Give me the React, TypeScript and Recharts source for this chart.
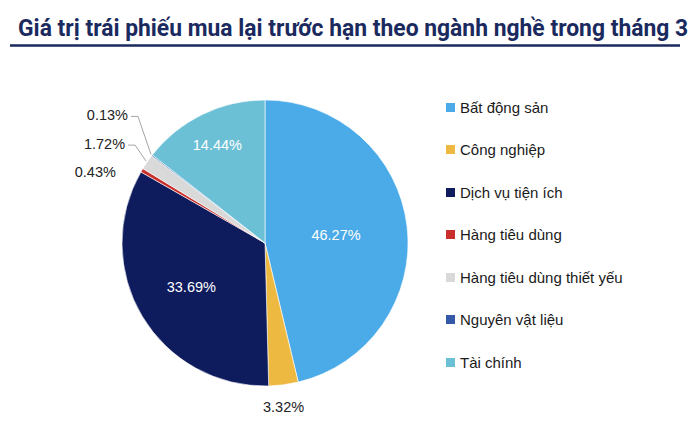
import React, { useLayoutEffect, useRef, useState } from "react";
import { PieChart, Pie, Cell, Legend } from "recharts";

const categories = [
  "Bất động sản",
  "Công nghiệp",
  "Dịch vụ tiện ích",
  "Hàng tiêu dùng",
  "Hàng tiêu dùng thiết yếu",
  "Nguyên vật liệu",
  "Tài chính",
];
const values = [46.27, 3.32, 33.69, 0.43, 1.72, 0.13, 14.44];
const colors = ["#4BAAE8", "#EDB940", "#0E1C5E", "#C9302C", "#D9D9D9", "#3558A8", "#6CC0D6"];
const title = "Giá trị trái phiếu mua lại trước hạn theo ngành nghề trong tháng 3";

const data = categories.map((name, i) => ({ name, value: values[i] }));

const RAD = Math.PI / 180;
// label placement style per slice: inside radius factor or outside offsets
const insideFactor: Record<number, number> = { 0: 0.5, 2: 0.6, 6: 0.76 };
const outsideStyle: Record<number, { dx: number; dy: number; line?: boolean }> = {
  1: { dx: 0, dy: 22 },
  3: { dx: -26, dy: 2 },
  4: { dx: -22, dy: -18, line: true },
  5: { dx: -24, dy: -40, line: true },
};

const FONT = "Liberation Sans, Arial, sans-serif";

const renderLabel = (props: any) => {
  const { cx, cy, midAngle, outerRadius, index, value } = props;
  const text = value.toFixed(2) + "%";
  const cos = Math.cos(-midAngle * RAD);
  const sin = Math.sin(-midAngle * RAD);
  if (insideFactor[index] !== undefined) {
    const r = outerRadius * insideFactor[index];
    return (
      <text
        x={cx + r * cos}
        y={cy + r * sin}
        fill="#fff"
        fontSize={14.5}
        fontFamily={FONT}
        textAnchor="middle"
        dominantBaseline="central"
      >
        {text}
      </text>
    );
  }
  const st = outsideStyle[index];
  const ex = cx + outerRadius * cos;
  const ey = cy + outerRadius * sin;
  const lx = ex + st.dx;
  const ly = ey + st.dy;
  if (index === 1) {
    return (
      <text
        x={lx}
        y={ly}
        fill="#222"
        fontSize={14.5}
        fontFamily={FONT}
        textAnchor="middle"
        dominantBaseline="central"
      >
        {text}
      </text>
    );
  }
  return (
    <g>
      {st.line && (
        <polyline
          points={`${lx + 3},${ly + 1} ${lx + 10},${ly + 1} ${ex - 1},${ey - 1}`}
          fill="none"
          stroke="#A6A6A6"
          strokeWidth={1}
        />
      )}
      <text
        x={lx}
        y={ly}
        fill="#222"
        fontSize={14.5}
        fontFamily={FONT}
        textAnchor="end"
        dominantBaseline="central"
      >
        {text}
      </text>
    </g>
  );
};

const LegendContent = () => (
  <div style={{ fontFamily: FONT, fontSize: 15, color: "#1a1a1a" }}>
    {categories.map((c, i) => (
      <div key={c} style={{ display: "flex", alignItems: "center", height: 42.5 }}>
        <span
          style={{ display: "inline-block", width: 9, height: 9, background: colors[i], marginRight: 5 }}
        />
        <span>{c}</span>
      </div>
    ))}
  </div>
);

const Title = () => {
  const ref = useRef<SVGTextElement>(null);
  const [sx, setSx] = useState(0.8);
  useLayoutEffect(() => {
    if (ref.current) {
      const len = ref.current.getComputedTextLength();
      if (len > 0) setSx(670 / len);
    }
  }, []);
  return (
    <svg width={700} height={80} style={{ position: "absolute", left: 0, top: 0 }}>
      <g transform={`translate(18,36) scale(${sx},1)`}>
        <text
          ref={ref}
          x={0}
          y={0}
          fontFamily="Roboto, Arial, sans-serif"
          fontWeight={700}
          fontSize={24}
          fill="#1B2A5E"
        >
          {title}
        </text>
      </g>
      <line x1={10} x2={680} y1={45.5} y2={45.5} stroke="#1B2A5E" strokeWidth={2.5} />
    </svg>
  );
};

export default function App() {
  return (
    <div style={{ position: "absolute", left: 0, top: 0, width: 700, height: 426, background: "#fff" }}>
      <Title />
      <div style={{ position: "absolute", left: 0, top: 0 }}>
        <PieChart width={700} height={426}>
          <Pie
            data={data}
            dataKey="value"
            nameKey="name"
            cx={260}
            cy={238}
            outerRadius={143}
            startAngle={90}
            endAngle={-270}
            stroke="#fff"
            strokeWidth={0.6}
            label={renderLabel}
            labelLine={false}
            isAnimationActive={false}
          >
            {data.map((d, i) => (
              <Cell key={d.name} fill={colors[i]} />
            ))}
          </Pie>
          <Legend
            layout="vertical"
            content={<LegendContent />}
            wrapperStyle={{ left: 446, top: 86, width: 250 }}
          />
        </PieChart>
      </div>
    </div>
  );
}
